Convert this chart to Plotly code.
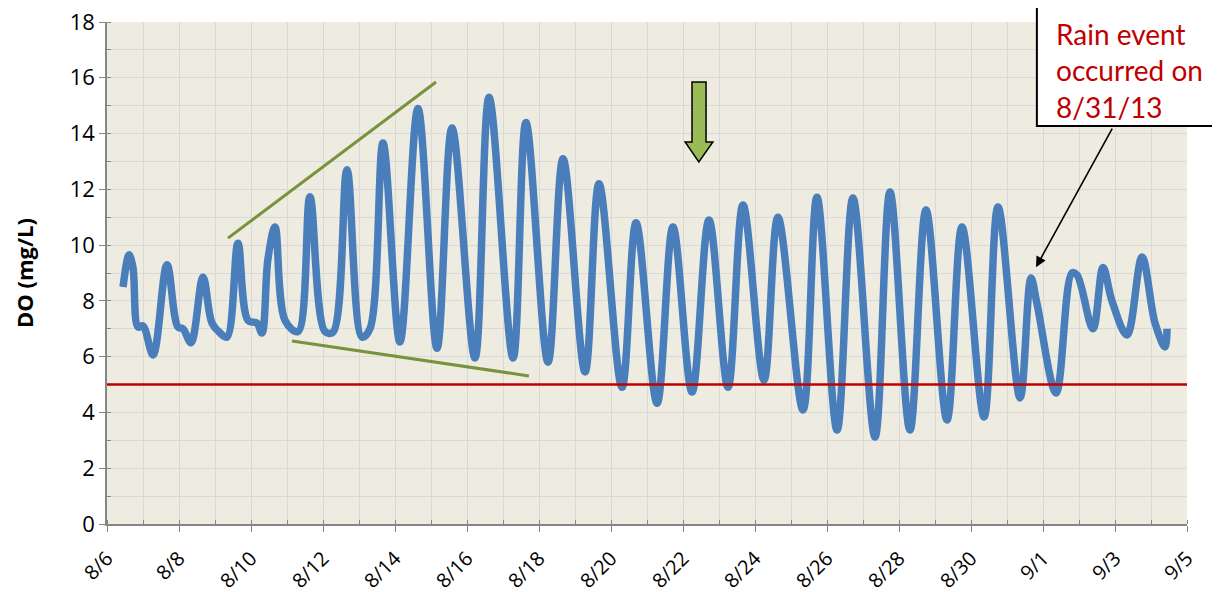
import plotly.graph_objects as go

# ---- data (hours after 8/6 00:00, DO in mg/L) ----
hours = [10.7, 14.7, 17.3, 20.7, 24.0, 30.7, 40.0, 47.3, 50.7, 56.0,
         64.0, 70.0, 75.3, 80.0, 87.3, 94.0, 100.0, 103.3, 107.3, 112.0,
         118.7, 127.3, 135.3, 145.3, 150.7, 160.0, 170.0, 175.3, 184.0, 195.3,
         207.3, 220.0, 230.0, 245.3, 254.7, 270.7, 279.3, 294.0, 304.0, 318.7,
         328.0, 343.3, 352.7, 366.7, 377.3, 390.0, 401.3, 414.0, 424.0, 438.0,
         447.3, 464.0, 473.3, 486.7, 497.3, 512.0, 522.0, 535.3, 546.0, 560.0,
         570.0, 584.7, 594.0, 608.7, 616.0, 620.0, 632.7, 643.3, 646.7, 657.3,
         664.0, 670.0, 680.0, 690.0, 698.7, 705.3, 706.7]
do_mgL = [8.5, 9.65, 9.2, 7.06, 7.1, 6.06, 9.3, 7.06, 7.0, 6.5,
          8.85, 7.2, 6.85, 6.7, 10.07, 7.3, 7.2, 6.85, 9.5, 10.65,
          7.3, 6.9, 11.73, 6.9, 6.88, 12.7, 6.7, 7.0, 13.66, 6.53,
          14.9, 6.3, 14.2, 5.95, 15.3, 5.95, 14.4, 5.8, 13.1, 5.45,
          12.2, 4.9, 10.8, 4.33, 10.65, 4.73, 10.9, 4.9, 11.44, 5.16,
          11.0, 4.09, 11.72, 3.37, 11.69, 3.12, 11.9, 3.37, 11.26, 3.73,
          10.65, 3.84, 11.37, 4.52, 8.82, 7.9, 4.7, 9.0, 8.93, 7.0,
          9.2, 8.0, 6.78, 9.57, 7.2, 6.35, 7.0]

tick_days = [0, 2, 4, 6, 8, 10, 12, 14, 16, 18, 20, 22, 24, 26, 28, 30]
tick_labels = ["8/6", "8/8", "8/10", "8/12", "8/14", "8/16", "8/18", "8/20",
               "8/22", "8/24", "8/26", "8/28", "8/30", "9/1", "9/3", "9/5"]

standard_do = 5
upper_trend = ([3.36, 9.14], [10.25, 15.85])
lower_trend = ([5.14, 11.72], [6.56, 5.31])

days = [h / 24 for h in hours]

FONT = "'Open Sans', Lato, sans-serif"
GRID = "#D9D9D9"
AXIS = "#868686"

fig = go.Figure()
fig.add_trace(go.Scatter(
    x=days, y=do_mgL, mode="lines",
    line=dict(color="#4A7EBB", width=7.5, shape="spline", smoothing=1.0),
    showlegend=False, hoverinfo="skip"))

# trend lines
for xs, ys in (upper_trend, lower_trend):
    fig.add_trace(go.Scatter(x=xs, y=ys, mode="lines",
                             line=dict(color="#77933C", width=3),
                             showlegend=False, hoverinfo="skip"))

# standard line
fig.add_shape(type="line", xref="paper", x0=0, x1=1, yref="y",
              y0=standard_do, y1=standard_do,
              line=dict(color="#C00000", width=2.5))

# green block arrow (data coordinates)
ax_l, ax_r, hx_l, hx_r, tip_x = 16.25, 16.64, 16.06, 16.83, 16.44
y_top, y_head, y_tip = 15.85, 13.70, 12.98
path = (f"M {ax_l} {y_top} L {ax_r} {y_top} L {ax_r} {y_head} L {hx_r} {y_head} "
        f"L {tip_x} {y_tip} L {hx_l} {y_head} L {ax_l} {y_head} Z")
fig.add_shape(type="path", path=path, xref="x", yref="y",
              fillcolor="#9BBB59", line=dict(color="black", width=1.5))

# text box (partially off the right edge)
fig.add_shape(type="rect", xref="paper", yref="paper",
              x0=0.861, x1=1.06, y0=0.793, y1=1.030,
              fillcolor="white", line=dict(color="black", width=2),
              layer="above")
fig.add_annotation(xref="paper", yref="paper", x=0.877, y=1.014,
                   xanchor="left", yanchor="top", align="left",
                   text="Rain event<br>occurred on<br>8/31/13",
                   showarrow=False,
                   font=dict(family="'Liberation Sans Narrow', 'Arial Narrow', Lato, sans-serif",
                             size=28, color="#C00000"))
# callout arrow
fig.add_annotation(x=25.806, y=9.21, xref="x", yref="y",
                   ax=77, ay=-140, text="", showarrow=True,
                   arrowhead=2, arrowsize=1.3, arrowwidth=1.6,
                   arrowcolor="black")

# the page body adds an 8px offset; margins compensate for it
fig.update_layout(
    width=1220, height=592,
    margin=dict(l=99, r=41, t=14, b=76, autoexpand=False),
    paper_bgcolor="white", plot_bgcolor="#EEECE1",
    font=dict(family=FONT, color="black"),
    xaxis=dict(range=[0, 30], tickmode="array", tickvals=tick_days,
               ticktext=tick_labels, tickangle=-45, automargin=False,
               tickfont=dict(size=20, family=FONT),
               ticklabelstandoff=7, ticklabeloverflow="allow",
               showgrid=True, gridcolor=GRID, gridwidth=1,
               minor=dict(dtick=1, showgrid=True, gridcolor=GRID,
                          ticks="inside", ticklen=4, tickcolor=AXIS),
               showline=True, linecolor=AXIS, linewidth=1.5,
               ticks="outside", ticklen=6, tickcolor=AXIS, zeroline=False),
    yaxis=dict(range=[0, 18], dtick=2, tick0=0, automargin=False,
               tickfont=dict(size=22, family=FONT),
               ticklabeloverflow="allow",
               showgrid=True, gridcolor=GRID, gridwidth=1,
               minor=dict(dtick=1, showgrid=True, gridcolor=GRID,
                          ticks="inside", ticklen=4, tickcolor=AXIS),
               showline=True, linecolor=AXIS, linewidth=1.5,
               ticks="outside", ticklen=6, tickcolor=AXIS, zeroline=False,
               title=dict(text="<b>DO (mg/L)</b>", standoff=30,
                          font=dict(size=22, family="'Open Sans', sans-serif"))),
)

fig.write_html("out.html")
